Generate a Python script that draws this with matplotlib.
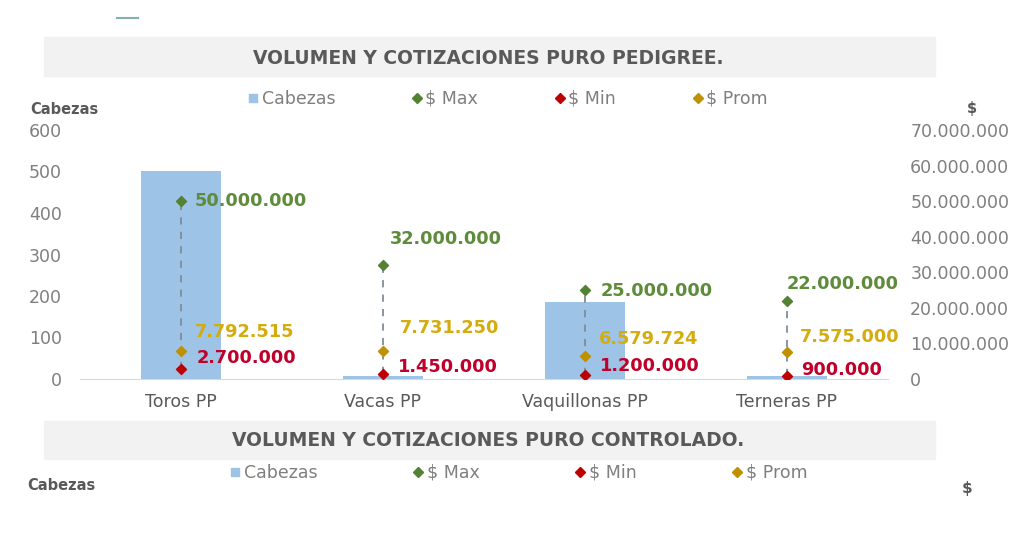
import matplotlib
matplotlib.use("Agg")
import matplotlib.pyplot as plt
from matplotlib.patches import Rectangle
from matplotlib.lines import Line2D
from matplotlib.ticker import FuncFormatter

# ================================
# Datos
# ================================
categorias = ["Toros PP", "Vacas PP", "Vaquillonas PP", "Terneras PP"]
cabezas = [500, 8, 185, 8]
precio_max = [50000000, 32000000, 25000000, 22000000]
precio_min = [2700000, 1450000, 1200000, 900000]
precio_prom = [7792515, 7731250, 6579724, 7575000]

ticks_cabezas = [0, 100, 200, 300, 400, 500, 600]
ticks_precio = [0, 10e6, 20e6, 30e6, 40e6, 50e6, 60e6, 70e6]

titulo_1 = "VOLUMEN Y COTIZACIONES PURO PEDIGREE."
titulo_2 = "VOLUMEN Y COTIZACIONES PURO CONTROLADO."
leyenda = ["Cabezas", "$ Max", "$ Min", "$ Prom"]

# desplazamientos de las etiquetas (puntos)
off_max = [(10, 0), (5, 19), (11, -1), (0, 12)]
off_prom = [(10, 14), (12, 17), (10, 12), (9, 11)]
off_min = [(11, 8), (11, 5), (11, 6), (10, 4)]

AZUL = "#9DC3E6"
VERDE = "#548235"
ROJO = "#C00000"
ORO = "#BF9000"
GRIS = "#595959"
GRIS_TICK = "#7F7F7F"


def miles(v, pos=None):
    return f"{int(round(v)):,}".replace(",", ".")


fig = plt.figure(figsize=(10.24, 5.38), dpi=100)
fig.patch.set_facecolor("white")

# banners de titulo
fig.add_artist(Rectangle((44 / 1024, 462 / 538), 891 / 1024, 39 / 538,
                         transform=fig.transFigure, color="#F2F2F2", zorder=0))
fig.add_artist(Rectangle((44 / 1024, 79 / 538), 891 / 1024, 38 / 538,
                         transform=fig.transFigure, color="#F2F2F2", zorder=0))
fig.add_artist(Line2D([117 / 1024, 138 / 1024], [520 / 538, 520 / 538],
                      transform=fig.transFigure, color="#7FB3B3", lw=1.5))

fig.text(488 / 1024, 480 / 538, titulo_1, ha="center", va="center",
         fontsize=13.5, fontweight="bold", color=GRIS)
fig.text(488 / 1024, 98 / 538, titulo_2, ha="center", va="center",
         fontsize=13.5, fontweight="bold", color=GRIS)

# ================================
# Grafico principal
# ================================
ax = fig.add_axes([80 / 1024, 159 / 538, 808 / 1024, 249 / 538])
x = list(range(len(categorias)))
ax.bar(x, cabezas, width=0.4, color=AZUL, zorder=1)
ax.set_xlim(-0.5, 3.5)
ax.set_ylim(0, 600)
ax.set_yticks(ticks_cabezas)
ax.set_xticks(x)
ax.set_xticklabels(categorias)
for s in ["top", "right", "left"]:
    ax.spines[s].set_visible(False)
ax.spines["bottom"].set_color("#D9D9D9")
ax.tick_params(axis="y", length=0, pad=13, labelsize=12.5, labelcolor=GRIS_TICK)
ax.tick_params(axis="x", length=0, pad=10, labelsize=12.5, labelcolor=GRIS)

ax2 = ax.twinx()
ax2.set_ylim(0, 70e6)
ax2.set_yticks(ticks_precio)
ax2.yaxis.set_major_formatter(FuncFormatter(miles))
ax2.tick_params(axis="y", length=0, pad=16, labelsize=12.5, labelcolor=GRIS_TICK)
for s in ["top", "right", "left", "bottom"]:
    ax2.spines[s].set_visible(False)

for i in x:
    ax2.plot([i, i], [precio_min[i], precio_max[i]], ls=(0, (4, 4)),
             color="#7F8C99", lw=1.3, zorder=2)
ax2.scatter(x, precio_max, marker="D", s=26, color=VERDE, zorder=3)
ax2.scatter(x, precio_min, marker="D", s=26, color=ROJO, zorder=3)
ax2.scatter(x, precio_prom, marker="D", s=26, color=ORO, zorder=3)

etiquetas = [(precio_max, off_max, "#5E8C3A"),
             (precio_prom, off_prom, "#D4AC0D"),
             (precio_min, off_min, "#C0002A")]
for valores, offs, col in etiquetas:
    for i, v in enumerate(valores):
        ax2.annotate(miles(v), (i, v), xytext=offs[i], textcoords="offset points",
                     ha="left", va="center", fontsize=12.8, fontweight="bold",
                     color=col, zorder=4)

# leyendas
def handles(ms):
    return [Line2D([], [], marker="s", ls="", color=AZUL, markersize=ms),
            Line2D([], [], marker="D", ls="", color=VERDE, markersize=ms - 1),
            Line2D([], [], marker="D", ls="", color=ROJO, markersize=ms - 1),
            Line2D([], [], marker="D", ls="", color=ORO, markersize=ms - 1)]


fig.legend(handles(6), leyenda, loc="center", bbox_to_anchor=(507 / 1024, 439 / 538),
           ncol=4, frameon=False, fontsize=12.5, handletextpad=0.1,
           columnspacing=4.3, handlelength=0.8, labelcolor=GRIS_TICK)
fig.legend(handles(6), leyenda, loc="center", bbox_to_anchor=(518 / 1024, 65 / 538),
           ncol=4, frameon=False, fontsize=12.5, handletextpad=0.1,
           columnspacing=5.4, handlelength=0.8, labelcolor=GRIS_TICK)

fig.text(30 / 1024, 429 / 538, "Cabezas", ha="left", va="center",
         fontsize=10.5, fontweight="bold", color=GRIS)
fig.text(972 / 1024, 429 / 538, "$", ha="center", va="center",
         fontsize=10.5, fontweight="bold", color=GRIS)
fig.text(27 / 1024, 53 / 538, "Cabezas", ha="left", va="center",
         fontsize=10.5, fontweight="bold", color=GRIS)
fig.text(967 / 1024, 49 / 538, "$", ha="center", va="center",
         fontsize=11, fontweight="bold", color=GRIS)

fig.savefig("out.png", dpi=100)
